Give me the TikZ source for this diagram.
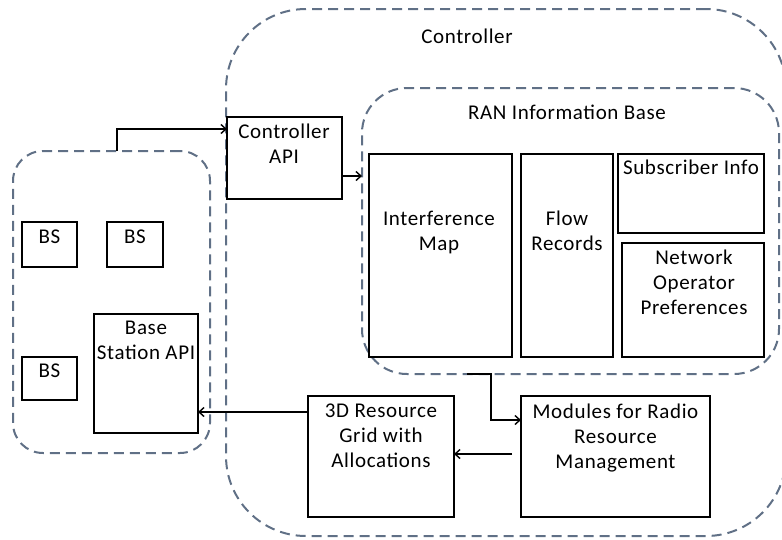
\documentclass[tikz,border=0pt]{standalone}
\usepackage{fontspec}
\setmainfont[LetterSpace=3]{Carlito}
\usetikzlibrary{arrows.meta,calc}
\definecolor{dashc}{RGB}{96,112,134}
\begin{document}
\begin{tikzpicture}[x=1pt,y=-1pt,
  box/.style={draw=black, line width=1.6pt, anchor=north west, inner sep=0pt, outer sep=0pt},
  grp/.style={draw=dashc, line width=2pt, dash pattern=on 10pt off 6pt, anchor=north west, inner sep=0pt, outer sep=0pt},
  txt/.style={font=\fontsize{21}{25}\selectfont, align=center, inner sep=0pt, anchor=north},
  ltxt/.style={font=\fontsize{21}{25}\selectfont, inner sep=0pt, anchor=base},
  arr/.style={line width=1.4pt, -{Straight Barb[length=5pt,width=9pt,line width=1.4pt]}}]
\useasboundingbox (0,0) rectangle (782,539);
% containers
\node[grp, rounded corners=80pt, minimum width=560pt, minimum height=527pt] (ctrl) at (226,9) {};
\node[grp, rounded corners=30pt, minimum width=197pt, minimum height=302pt] (bsg) at (13,151) {};
\node[grp, rounded corners=45pt, minimum width=417pt, minimum height=286pt] (ran) at (362,88) {};
\node[ltxt] (ctrlt) at (467,43.7) {Controller};
\node[ltxt] (rant) at (567,119.7) {RAN Information Base};
% boxes
\node[box, minimum width=115pt, minimum height=82pt] (capi) at (227,117) {};
\node[box, minimum width=55pt, minimum height=45pt] (bs1) at (22,222) {};
\node[box, minimum width=56pt, minimum height=45pt] (bs2) at (107,222) {};
\node[box, minimum width=55pt, minimum height=43pt] (bs3) at (22,357) {};
\node[box, minimum width=104pt, minimum height=119pt] (bsapi) at (94,314) {};
\node[box, minimum width=143pt, minimum height=203pt] (imap) at (369,154) {};
\node[box, minimum width=92pt, minimum height=203pt] (flow) at (521,154) {};
\node[box, minimum width=146pt, minimum height=79pt] (subs) at (618,154) {};
\node[box, minimum width=142pt, minimum height=114pt] (netop) at (622,243) {};
\node[box, minimum width=146pt, minimum height=121pt] (grid) at (308,396) {};
\node[box, minimum width=189pt, minimum height=121pt] (rrm) at (521,396) {};
% texts
\node[txt] (capit) at (284,123.5) {Controller\\API};
\node[ltxt] (bs1t) at (49.5,243.7) {BS};
\node[ltxt] (bs2t) at (135,243.7) {BS};
\node[ltxt] (bs3t) at (49.5,377.7) {BS};
\node[txt] (bsapit) at (146,320.5) {Base\\Station API};
\node[txt] (imapt) at (439,210.5) {Interference\\Map};
\node[txt] (flowt) at (567,210.5) {Flow\\Records};
\node[ltxt] (subst) at (691,174.7) {Subscriber Info};
\node[txt] (netopt) at (694,249.5) {Network\\Operator\\Preferences};
\node[txt] (gridt) at (381,403.5) {3D Resource\\Grid with\\Allocations};
\node[txt] (rrmt) at (615.5,403.5) {Modules for Radio\\Resource\\Management};
% connectors
\coordinate (a1) at ($(bsg.north west)+(104,0)$);
\draw[arr] (a1) |- ($(capi.north west)+(0,12)$);
\coordinate (a2) at ($(capi.north east)+(0,59)$);
\draw[arr] (a2) -- (a2 -| ran.west);
\coordinate (a3) at ($(ran.south west)+(105,0)$);
\draw[arr] (a3) -- ++(24,0) |- ($(rrm.north west)+(0,24)$);
\coordinate (a4) at ($(rrm.north west)+(-9,58)$);
\draw[arr] (a4) -- (a4 -| grid.east);
\coordinate (a5) at ($(grid.north west)+(0,16)$);
\draw[arr] (a5) -- (a5 -| bsapi.east);
\end{tikzpicture}
\end{document}
